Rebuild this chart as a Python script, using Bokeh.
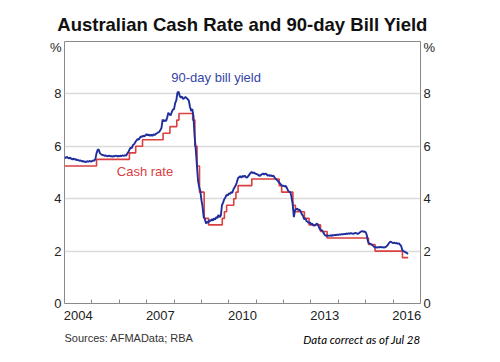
from bokeh.plotting import figure
from bokeh.layouts import column
from bokeh.models import FixedTicker, Label, LinearAxis, Range1d, CustomJSTickFormatter, Title
from bokeh.embed import file_html
from bokeh.resources import INLINE

# Cash rate target (effective dates as fractional years)
cash_dates = [2004.0, 2005.17, 2006.37, 2006.6, 2006.85, 2007.6, 2007.85, 2008.1, 2008.18,
              2008.68, 2008.76, 2008.84, 2008.93, 2009.1, 2009.26, 2009.76, 2009.84, 2009.92,
              2010.18, 2010.26, 2010.34, 2010.84, 2011.84, 2011.93, 2012.34, 2012.43, 2012.76,
              2012.93, 2013.35, 2013.59, 2015.1, 2015.34, 2016.34, 2016.55]
cash_rates = [5.25, 5.50, 5.75, 6.00, 6.25, 6.50, 6.75, 7.00, 7.25,
              7.00, 6.00, 5.25, 4.25, 3.25, 3.00, 3.25, 3.50, 3.75,
              4.00, 4.25, 4.50, 4.75, 4.50, 4.25, 3.75, 3.50, 3.25,
              3.00, 2.75, 2.50, 2.25, 2.00, 1.75, 1.75]

# 90-day bill yield, twice a month from Jan 2004
bill_start_year = 2004
bill_per_year = 24
bill_yield = [
    # 2004
    5.58, 5.55, 5.60, 5.56, 5.54, 5.57, 5.52, 5.50, 5.53, 5.49, 5.51, 5.47,
    5.48, 5.45, 5.46, 5.43, 5.44, 5.41, 5.42, 5.40, 5.43, 5.41, 5.44, 5.42,
    # 2005
    5.43, 5.46, 5.45, 5.50, 5.72, 5.86, 5.88, 5.74, 5.70, 5.67, 5.66, 5.64,
    5.65, 5.63, 5.62, 5.64, 5.62, 5.63, 5.61, 5.63, 5.62, 5.64, 5.62, 5.63,
    # 2006
    5.62, 5.64, 5.63, 5.65, 5.63, 5.66, 5.64, 5.72, 5.78, 5.88, 5.95, 5.93,
    6.05, 6.08, 6.15, 6.22, 6.27, 6.25, 6.32, 6.38, 6.36, 6.40, 6.38, 6.42,
    # 2007
    6.46, 6.42, 6.45, 6.40, 6.44, 6.40, 6.46, 6.43, 6.47, 6.50, 6.53, 6.55,
    6.62, 6.70, 7.02, 6.95, 7.00, 6.96, 7.10, 7.28, 7.22, 7.18, 7.30, 7.40,
    # 2008
    7.42, 7.65, 7.75, 8.05, 8.08, 7.92, 7.86, 7.90, 7.80, 7.84, 7.88, 7.84,
    7.80, 7.74, 7.50, 7.35, 7.42, 7.15, 6.40, 5.90, 5.30, 4.70, 4.45, 4.30,
    # 2009
    3.95, 3.70, 3.30, 3.22, 3.05, 3.12, 3.08, 3.18, 3.15, 3.22, 3.16, 3.25,
    3.20, 3.30, 3.26, 3.38, 3.30, 3.35, 3.75, 3.85, 3.98, 4.05, 4.15, 4.12,
    # 2010
    4.20, 4.18, 4.25, 4.22, 4.35, 4.43, 4.50, 4.62, 4.78, 4.82, 4.86, 4.80,
    4.87, 4.84, 4.88, 4.82, 4.80, 4.86, 4.92, 4.98, 5.02, 4.98, 5.00, 4.96,
    # 2011
    4.95, 4.93, 4.90, 4.87, 4.90, 4.93, 4.96, 4.92, 4.96, 4.94, 4.88, 4.90,
    4.87, 4.89, 4.86, 4.88, 4.82, 4.76, 4.72, 4.68, 4.62, 4.58, 4.52, 4.49,
    # 2012
    4.50, 4.46, 4.49, 4.40, 4.30, 4.26, 4.24, 4.05, 3.78, 3.30, 3.55, 3.60,
    3.62, 3.56, 3.58, 3.52, 3.40, 3.35, 3.22, 3.25, 3.15, 3.12, 3.08, 3.10,
    # 2013
    3.02, 3.05, 2.98, 2.97, 3.00, 3.05, 3.02, 2.92, 2.82, 2.80, 2.78, 2.70,
    2.62, 2.58, 2.60, 2.58, 2.59, 2.60, 2.58, 2.61, 2.60, 2.62, 2.61, 2.63,
    # 2014
    2.62, 2.64, 2.63, 2.65, 2.64, 2.66, 2.65, 2.67, 2.66, 2.68, 2.66, 2.69,
    2.67, 2.66, 2.68, 2.70, 2.68, 2.66, 2.68, 2.72, 2.75, 2.76, 2.74, 2.75,
    # 2015
    2.72, 2.60, 2.35, 2.30, 2.28, 2.25, 2.22, 2.18, 2.14, 2.15, 2.13, 2.15,
    2.14, 2.16, 2.14, 2.15, 2.13, 2.15, 2.17, 2.22, 2.28, 2.34, 2.36, 2.33,
    # 2016
    2.30, 2.32, 2.30, 2.31, 2.28, 2.30, 2.25, 2.20, 2.05, 2.00, 1.98, 1.95,
    1.93, 1.88,
]
bill_dates = [bill_start_year + i / bill_per_year for i in range(len(bill_yield))]

year_labels = [2004, 2007, 2010, 2013, 2016]
year_ticks = list(range(2005, 2017))
y_ticks = [0, 2, 4, 6, 8]
unit_pos = 9.77
x_start, x_end = 2004, 2017

FONT = "Liberation Sans"
W = 492

p = figure(width=W, height=327, x_range=Range1d(x_start, x_end), y_range=Range1d(0, 10),
           output_backend="svg", toolbar_location=None,
           min_border_left=64, min_border_right=72, min_border_top=41, min_border_bottom=24)
p.background_fill_color = "white"
p.border_fill_color = "white"
p.outline_line_color = "#8a8a8a"
p.outline_line_width = 1

p.title = Title(text="Australian Cash Rate and 90-day Bill Yield", align="center",
                text_font=FONT, text_font_size="18.5px", text_font_style="bold",
                text_color="#111111", standoff=13)

# grid
p.xgrid.visible = False
p.ygrid.ticker = FixedTicker(ticks=[2, 4, 6, 8])
p.ygrid.grid_line_color = "#dadada"
p.ygrid.grid_line_width = 1.5

# x axis
xa = p.xaxis[0]
xa.ticker = FixedTicker(ticks=[y + 0.5 for y in year_labels], minor_ticks=year_ticks)
xa.formatter = CustomJSTickFormatter(code="return Math.floor(tick).toFixed(0);")
xa.axis_line_color = None
xa.major_tick_line_color = None
xa.major_tick_in = 0
xa.major_tick_out = 0
xa.minor_tick_in = 4
xa.minor_tick_out = 0
xa.minor_tick_line_color = "#8a8a8a"
xa.major_label_standoff = 7
xa.major_label_text_font = FONT
xa.major_label_text_font_size = "13px"
xa.major_label_text_color = "#222222"

# y axes
ya = p.yaxis[0]
ra = LinearAxis()
p.add_layout(ra, "right")
for ax in (ya, ra):
    ax.ticker = FixedTicker(ticks=y_ticks + [unit_pos])
    ax.formatter = CustomJSTickFormatter(code="return tick > 9 ? '%' : tick.toFixed(0);")
    ax.axis_line_color = None
    ax.major_tick_line_color = None
    ax.major_tick_in = 0
    ax.major_tick_out = 0
    ax.minor_tick_line_color = None
    ax.minor_tick_in = 0
    ax.minor_tick_out = 0
    ax.major_label_standoff = 3
    ax.major_label_text_font = FONT
    ax.major_label_text_font_size = "13px"
    ax.major_label_text_color = "#222222"

# series
p.step(cash_dates, cash_rates, mode="after", line_color="#d9403f", line_width=1.6)
p.line(bill_dates, bill_yield, line_color="#1f2e9c", line_width=1.9)

# in-plot labels
p.add_layout(Label(x=2007.9, y=8.63, text="90-day bill yield", text_align="left",
                   text_baseline="middle", text_font=FONT, text_font_size="13px",
                   text_color="#3545a8"))
p.add_layout(Label(x=2005.91, y=5.04, text="Cash rate", text_align="left",
                   text_baseline="middle", text_font=FONT, text_font_size="13px",
                   text_color="#d9403f"))

# footer strip with the source and note texts (its frame lines up with the chart's)
FH = 27
foot = figure(width=W, height=FH, x_range=Range1d(x_start, x_end), y_range=Range1d(0, FH),
              output_backend="svg", toolbar_location=None,
              min_border_left=64, min_border_right=72, min_border_top=0, min_border_bottom=0,
              x_axis_type=None, y_axis_type=None)
foot.outline_line_color = None
foot.grid.visible = False
foot.background_fill_color = "white"
foot.border_fill_color = "white"
foot.add_layout(Label(x=x_start, y=16.3, text="Sources:  AFMAData; RBA", text_align="left",
                      text_baseline="middle", text_font=FONT, text_font_size="11px",
                      text_color="#333333"))
foot.add_layout(Label(x=x_end, y=15, text="Data correct as of Jul 28", text_align="right",
                      text_baseline="middle", text_font="Lato", text_font_size="11.5px",
                      text_font_style="italic", text_color="#000000"))

layout = column(p, foot, spacing=0)
open("out.html", "w").write(file_html(layout, INLINE))
